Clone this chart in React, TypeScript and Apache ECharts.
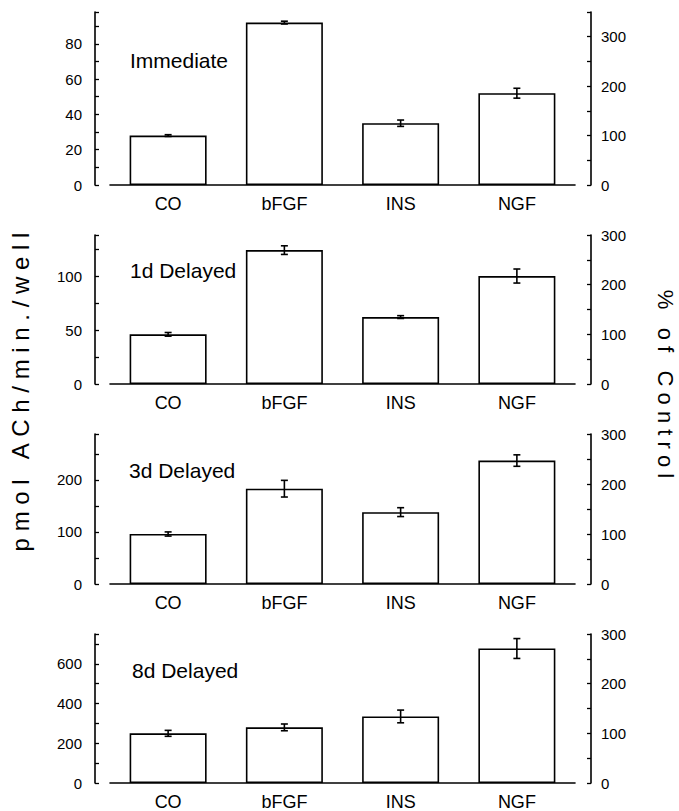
import React, { useEffect, useRef } from 'react';
import * as echarts from 'echarts';

// ---- data ----
const categories = ['CO', 'bFGF', 'INS', 'NGF'];
const panelTitles = ['Immediate', '1d Delayed', '3d Delayed', '8d Delayed'];
const immediateMeans = [28, 92, 35, 52];
const immediateErrors = [0.5, 0.8, 1.8, 2.8];
const delayed1dMeans = [46, 124, 62, 100];
const delayed1dErrors = [1.7, 4, 1.3, 6.5];
const delayed3dMeans = [96, 183, 138, 237];
const delayed3dErrors = [4, 16, 8.5, 11];
const delayed8dMeans = [250, 280, 335, 677];
const delayed8dErrors = [15, 17, 32, 50];
const percentAxisMax = [350, 300, 300, 300];
const leftLabelStep = [20, 50, 100, 200];
const leftTickStep = [10, 25, 50, 100];
const percentLabelStep = 100;
const percentTickStep = 50;
const leftAxisWords = ['pmol', 'ACh/min./well'];
const rightAxisWords = ['%', 'of', 'Control'];

const panelMeans = [immediateMeans, delayed1dMeans, delayed3dMeans, delayed8dMeans];
const panelErrors = [immediateErrors, delayed1dErrors, delayed3dErrors, delayed8dErrors];

// letter-spaced title using non-breaking spaces (SVG collapses normal spaces)
const NB = '\u00A0';
const spaced = (words: string[], wordGap: number) =>
  words.map((w) => w.split('').join(NB)).join(NB.repeat(wordGap));

// ---- layout ----
const gridTops = [12, 235, 434, 634];
const gridHeights = [173, 149, 150, 150];
const titleCenters = [62, 272, 472, 672];
const titleLefts = [130, 130, 129, 132];
const FONT = '"Liberation Sans", Arial, sans-serif';
const INK = '#000';

export default function App() {
  const ref = useRef<HTMLDivElement>(null);
  useEffect(() => {
    if (!ref.current) return;
    const chart = echarts.init(ref.current, null, { renderer: 'svg' });
    const grids: any[] = [];
    const xAxes: any[] = [];
    const yAxes: any[] = [];
    const series: any[] = [];
    const graphics: any[] = [];
    const lineStyle = { color: INK, width: 1.6 };

    panelMeans.forEach((means, i) => {
      const coValue = means[0];
      const leftMax = (coValue * percentAxisMax[i]) / 100;
      grids.push({ left: 110, right: 104, top: gridTops[i], height: gridHeights[i] });
      xAxes.push({
        type: 'category',
        gridIndex: i,
        data: categories,
        axisLine: { show: true, lineStyle },
        axisTick: { show: false },
        axisLabel: { color: INK, fontSize: 18, fontFamily: FONT, margin: 10 },
        splitLine: { show: false },
      });
      const lstep = leftLabelStep[i];
      yAxes.push({
        type: 'value',
        gridIndex: i,
        position: 'left',
        offset: 15,
        min: 0,
        max: leftMax,
        interval: leftTickStep[i],
        axisLine: { show: true, lineStyle },
        axisTick: { show: true, inside: true, length: 4, lineStyle: { color: INK, width: 1.3 } },
        axisLabel: {
          color: INK,
          fontSize: 15,
          fontFamily: FONT,
          margin: 13,
          formatter: (v: number) => (Math.abs(v % lstep) < 1e-6 ? String(v) : ''),
        },
        splitLine: { show: false },
      });
      yAxes.push({
        type: 'value',
        gridIndex: i,
        position: 'right',
        offset: 16,
        min: 0,
        max: percentAxisMax[i],
        interval: percentTickStep,
        axisLine: { show: true, lineStyle },
        axisTick: { show: true, inside: true, length: 4, lineStyle: { color: INK, width: 1.3 } },
        axisLabel: {
          color: INK,
          fontSize: 15,
          fontFamily: FONT,
          margin: 10,
          formatter: (v: number) => (v % percentLabelStep === 0 ? String(v) : ''),
        },
        splitLine: { show: false },
      });
      series.push({
        type: 'bar',
        xAxisIndex: i,
        yAxisIndex: 2 * i,
        data: means,
        barWidth: 77,
        itemStyle: { color: '#fff', borderColor: INK, borderWidth: 1.6 },
        z: 2,
      });
      const errs = panelErrors[i];
      series.push({
        type: 'custom',
        xAxisIndex: i,
        yAxisIndex: 2 * i,
        data: means.map((m, j) => [j, m, errs[j]]),
        encode: { x: 0, y: 1 },
        z: 5,
        renderItem: (params: any, api: any) => {
          const x = api.value(0);
          const v = api.value(1);
          const e = api.value(2);
          const hi = api.coord([x, v + e]);
          const lo = api.coord([x, v - e]);
          const w = 3.5;
          const st = { stroke: INK, lineWidth: 1.6 };
          return {
            type: 'group',
            children: [
              { type: 'line', shape: { x1: hi[0], y1: hi[1], x2: lo[0], y2: lo[1] }, style: st },
              { type: 'line', shape: { x1: hi[0] - w, y1: hi[1], x2: hi[0] + w, y2: hi[1] }, style: st },
              { type: 'line', shape: { x1: lo[0] - w, y1: lo[1], x2: lo[0] + w, y2: lo[1] }, style: st },
            ],
          };
        },
      });
      graphics.push({
        type: 'text',
        left: titleLefts[i],
        top: titleCenters[i] - 12,
        style: { text: panelTitles[i], fill: INK, font: `21px ${FONT}` },
      });
    });

    graphics.push({
      type: 'text',
      x: 20,
      y: 392,
      rotation: Math.PI / 2,
      style: {
        text: spaced(leftAxisWords, 3),
        fill: INK,
        font: `24px ${FONT}`,
        align: 'center',
        verticalAlign: 'middle',
      },
    });
    graphics.push({
      type: 'text',
      x: 665,
      y: 384,
      rotation: -Math.PI / 2,
      style: {
        text: spaced(rightAxisWords, 3),
        fill: INK,
        font: `22px ${FONT}`,
        align: 'center',
        verticalAlign: 'middle',
      },
    });

    chart.setOption({
      animation: false,
      backgroundColor: '#fff',
      grid: grids,
      xAxis: xAxes,
      yAxis: yAxes,
      series,
      graphic: graphics,
    });
    return () => chart.dispose();
  }, []);
  return (
    <div
      ref={ref}
      style={{ position: 'absolute', left: 0, top: 0, width: 679, height: 811, background: '#fff' }}
    />
  );
}
